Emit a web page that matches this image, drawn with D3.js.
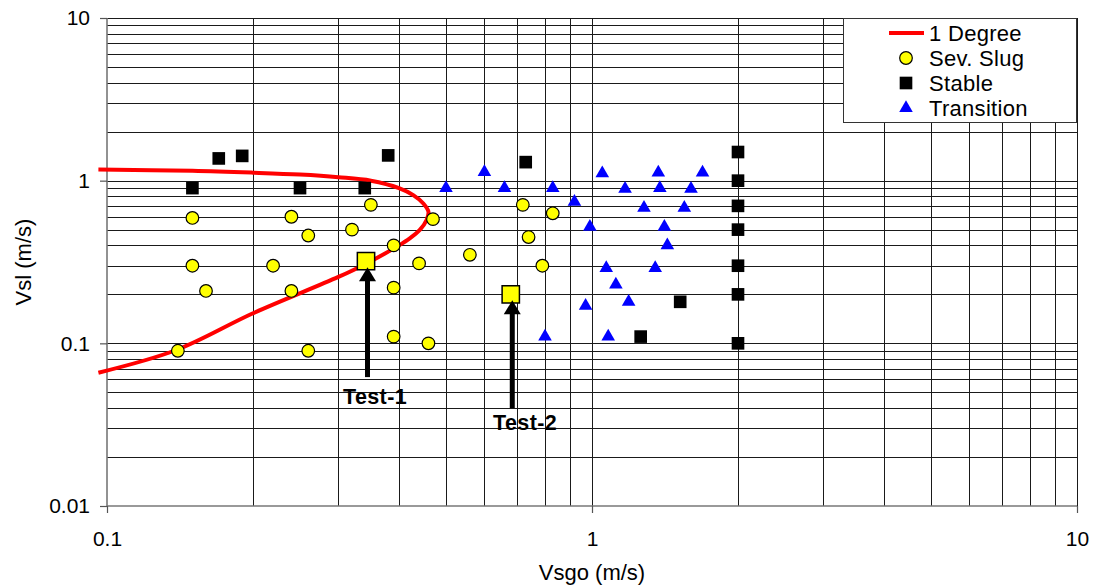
<!DOCTYPE html>
<html>
<head>
<meta charset="utf-8">
<script src="https://cdn.jsdelivr.net/npm/d3@7"></script>
<style>
  html, body { margin: 0; padding: 0; background: #fff; }
  svg { display: block; font-family: "Liberation Sans", Arial, sans-serif; }
</style>
</head>
<body>
<svg id="chart" width="1097" height="587"></svg>
<script>
// Inclination boundary for 1 degree (Vsgo, Vsl)
const degreeCurve = [
  [0.096, 1.17], [0.15, 1.15], [0.2, 1.12], [0.25, 1.09], [0.3, 1.05],
  [0.35, 1.0], [0.40, 0.90], [0.428, 0.815], [0.449, 0.724], [0.46, 0.644],
  [0.456, 0.573], [0.442, 0.50], [0.421, 0.442], [0.40, 0.40], [0.343, 0.31],
  [0.3, 0.256], [0.2, 0.153], [0.139, 0.091], [0.096, 0.066]
];

// Severe slugging observations
const sevSlug = [
  [0.15, 0.59], [0.15, 0.30], [0.16, 0.21], [0.14, 0.09],
  [0.24, 0.60], [0.26, 0.46], [0.22, 0.30], [0.24, 0.21], [0.26, 0.09],
  [0.35, 0.71], [0.32, 0.50], [0.39, 0.40], [0.39, 0.22], [0.39, 0.11],
  [0.44, 0.31], [0.46, 0.10], [0.47, 0.58],
  [0.72, 0.71], [0.83, 0.63], [0.74, 0.45], [0.56, 0.35], [0.79, 0.30]
];

// Stable flow observations
const stable = [
  [0.17, 1.37], [0.19, 1.42], [0.15, 0.90], [0.25, 0.90], [0.34, 0.90],
  [0.38, 1.43], [0.73, 1.30],
  [2.0, 1.5], [2.0, 1.0], [2.0, 0.70], [2.0, 0.50], [2.0, 0.30], [2.0, 0.20], [2.0, 0.10],
  [1.52, 0.18], [1.26, 0.11]
];

// Transition observations
const transition = [
  [0.50, 0.90], [0.60, 1.13], [0.66, 0.90], [0.83, 0.90], [0.92, 0.74],
  [0.99, 0.52], [1.05, 1.11], [1.17, 0.89], [1.37, 1.12], [1.38, 0.90],
  [1.69, 1.12], [1.60, 0.89], [1.28, 0.68], [1.55, 0.68], [1.41, 0.52],
  [1.43, 0.40], [1.07, 0.29], [1.35, 0.29], [1.12, 0.23], [1.19, 0.18],
  [0.97, 0.17], [0.80, 0.11], [1.08, 0.11]
];

// Test conditions with their annotation arrows and labels
const testNames = ["Test-1", "Test-2"];
const testPoints = [[0.342, 0.32], [0.68, 0.20]];
const testArrowTails = [0.062, 0.040];
const testLabelPos = [[0.357, 0.0423], [0.728, 0.0293]];

const xTickValues = [0.1, 1, 10];
const xTickLabels = ["0.1", "1", "10"];
const yTickValues = [0.01, 0.1, 1, 10];
const yTickLabels = ["0.01", "0.1", "1", "10"];

const legendLabels = ["1 Degree", "Sev. Slug", "Stable", "Transition"];

const svg = d3.select("#chart");
const plotLeft = 107, plotRight = 1077, plotTop = 18, plotBottom = 506;

const x = d3.scaleLog().domain([0.1, 10]).range([plotLeft, plotRight]);
const y = d3.scaleLog().domain([0.01, 10]).range([plotBottom, plotTop]);

// minor grid values across each decade
function decadeValues(lo, hi) {
  const out = [];
  for (let e = Math.round(Math.log10(lo)); e < Math.round(Math.log10(hi)); e++) {
    for (let m = 1; m <= 9; m++) out.push(m * Math.pow(10, e));
  }
  out.push(hi);
  return out;
}

const grid = svg.append("g").attr("class", "grid")
  .attr("stroke", "#1a1a1a").attr("stroke-width", 1).attr("shape-rendering", "crispEdges");

grid.selectAll("line.v").data(decadeValues(0.1, 10).filter(v => v > 0.10001))
  .join("line").attr("class", "v")
  .attr("x1", d => Math.round(x(d)) + 0.5).attr("x2", d => Math.round(x(d)) + 0.5)
  .attr("y1", plotTop).attr("y2", plotBottom);

grid.selectAll("line.h").data(decadeValues(0.01, 10).filter(v => v > 0.010001))
  .join("line").attr("class", "h")
  .attr("x1", plotLeft).attr("x2", plotRight)
  .attr("y1", d => Math.round(y(d)) + 0.5).attr("y2", d => Math.round(y(d)) + 0.5);

// axes
const xAxis = d3.axisBottom(x).tickValues(xTickValues)
  .tickFormat((d, i) => xTickLabels[i]).tickSize(7).tickPadding(18);
const yAxis = d3.axisLeft(y).tickValues(yTickValues)
  .tickFormat((d, i) => yTickLabels[i]).tickSize(7).tickPadding(10);

const gx = svg.append("g").attr("transform", `translate(0,${plotBottom})`).call(xAxis);
const gy = svg.append("g").attr("transform", `translate(${plotLeft},0)`).call(yAxis);

[gx, gy].forEach(g => {
  g.select(".domain").attr("stroke", "#777").attr("stroke-width", 1.6);
  g.selectAll(".tick line").attr("stroke", "#555").attr("stroke-width", 1.2);
  g.selectAll(".tick text").attr("fill", "#000").attr("font-size", 21)
    .attr("font-family", '"Liberation Sans", Arial, sans-serif');
});
gy.select(".domain").attr("d", `M0,${plotTop}V${plotBottom}`);
gx.select(".domain").attr("d", `M${plotLeft},0H${plotRight}`);

// axis titles
svg.append("text").attr("x", (plotLeft + plotRight) / 2).attr("y", 580)
  .attr("text-anchor", "middle").attr("font-size", 22).text("Vsgo (m/s)");
svg.append("text")
  .attr("transform", `translate(31,${(plotTop + plotBottom) / 2}) rotate(-90)`)
  .attr("text-anchor", "middle").attr("font-size", 22).text("Vsl (m/s)");

// 1 degree boundary
const line = d3.line().x(d => x(d[0])).y(d => y(d[1])).curve(d3.curveCatmullRom.alpha(0.5));
svg.append("path").datum(degreeCurve).attr("d", line)
  .attr("fill", "none").attr("stroke", "#ff0000").attr("stroke-width", 4)
  .attr("stroke-linejoin", "round");

const circleSym = d3.symbol().type(d3.symbolCircle).size(125);
const squareSym = d3.symbol().type(d3.symbolSquare).size(160);
const triSym = d3.symbol().type(d3.symbolTriangle).size(80);
const testSym = d3.symbol().type(d3.symbolSquare).size(300);

svg.append("g").selectAll("path").data(stable).join("path")
  .attr("transform", d => `translate(${x(d[0])},${y(d[1])})`)
  .attr("d", squareSym).attr("fill", "#000");

svg.append("g").selectAll("path").data(transition).join("path")
  .attr("transform", d => `translate(${x(d[0])},${y(d[1])})`)
  .attr("d", triSym).attr("fill", "#0000ff");

svg.append("g").selectAll("path").data(sevSlug).join("path")
  .attr("transform", d => `translate(${x(d[0])},${y(d[1])})`)
  .attr("d", circleSym).attr("fill", "#ffff00").attr("stroke", "#000").attr("stroke-width", 1.2);

svg.append("g").selectAll("path").data(testPoints).join("path")
  .attr("transform", d => `translate(${x(d[0])},${y(d[1])})`)
  .attr("d", testSym).attr("fill", "#ffff00").attr("stroke", "#000").attr("stroke-width", 1.5);

// annotation arrows pointing up at each test point
const arrows = svg.append("g");
testPoints.forEach((p, i) => {
  const ax = x(p[0]) + 1.5;
  const tipY = y(p[1]) + 6;
  const baseY = tipY + 14;
  arrows.append("line").attr("x1", ax).attr("x2", ax)
    .attr("y1", baseY - 1).attr("y2", y(testArrowTails[i]))
    .attr("stroke", "#000").attr("stroke-width", 5);
  arrows.append("path")
    .attr("d", `M${ax},${tipY}L${ax - 8.5},${baseY}L${ax + 8.5},${baseY}Z`)
    .attr("fill", "#000");
  svg.append("text")
    .attr("x", x(testLabelPos[i][0])).attr("y", y(testLabelPos[i][1]))
    .attr("text-anchor", "middle").attr("font-size", 21.5).attr("font-weight", "bold")
    .attr("letter-spacing", 0.4)
    .text(testNames[i]);
});

// legend
const lg = svg.append("g");
lg.append("rect").attr("x", 843.5).attr("y", 18.5).attr("width", 233).attr("height", 104)
  .attr("fill", "#fff").attr("stroke", "#333").attr("stroke-width", 1);
const rowY = [33, 58, 83, 108];
legendLabels.forEach((label, i) => {
  const cy = rowY[i];
  if (i === 0) {
    lg.append("line").attr("x1", 889).attr("x2", 924).attr("y1", cy).attr("y2", cy)
      .attr("stroke", "#ff0000").attr("stroke-width", 4);
  } else {
    const sym = [null, circleSym, squareSym, triSym][i];
    const fill = [null, "#ffff00", "#000", "#0000ff"][i];
    const p = lg.append("path").attr("transform", `translate(906,${cy})`)
      .attr("d", sym).attr("fill", fill);
    if (i === 1) p.attr("stroke", "#000").attr("stroke-width", 1.2);
  }
  lg.append("text").attr("x", 929).attr("y", cy).attr("dy", "0.36em")
    .attr("font-size", 22).attr("letter-spacing", 0.3).text(label);
});
</script>
</body>
</html>
